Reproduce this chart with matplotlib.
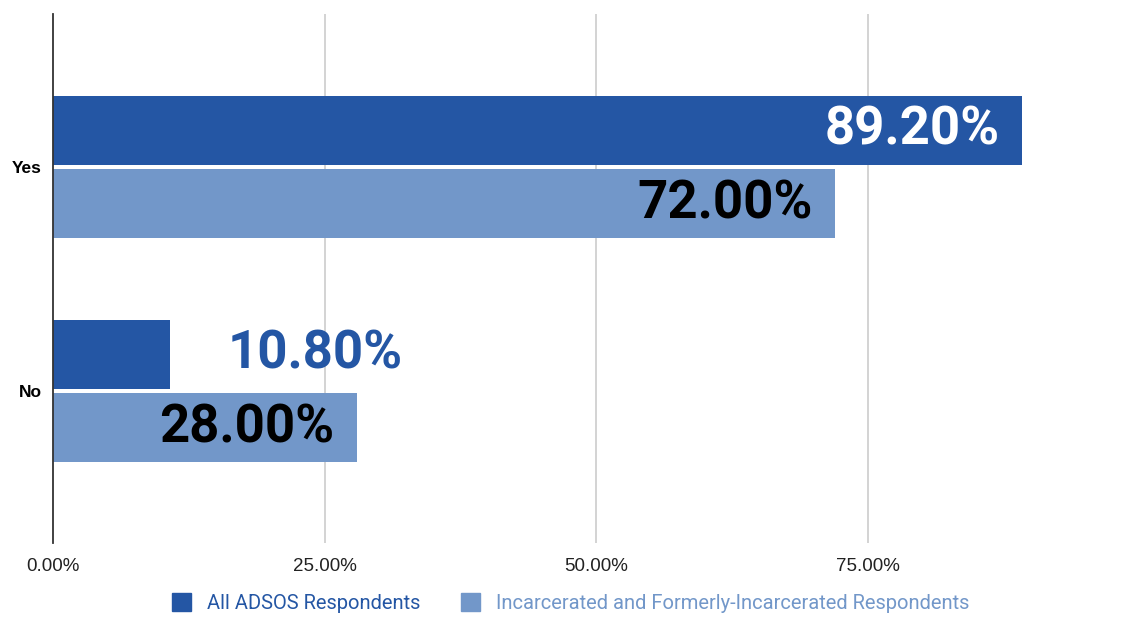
import matplotlib
matplotlib.use('Agg')
import matplotlib.pyplot as plt
from matplotlib.patches import Rectangle

plt.rcParams['font.family'] = ['Roboto', 'DejaVu Sans']

# survey answers and shares per group
categories = ['Yes', 'No']
all_adsos = [0.892, 0.108]
incarcerated = [0.72, 0.28]
series_names = ['All ADSOS Respondents', 'Incarcerated and Formerly-Incarcerated Respondents']
x_ticks = [0.0, 0.25, 0.5, 0.75]
x_tick_labels = ['0.00%', '25.00%', '50.00%', '75.00%']

dark_blue = '#2456a4'
light_blue = '#7297c9'

fig = plt.figure(figsize=(11.28, 6.17), dpi=100)
ax = fig.add_axes([53 / 1128, 1 - 543 / 617, 1 - 53 / 1128, (543 - 14) / 617])

bar_h = 0.308
offset = 0.163
pos = list(range(len(categories)))

ax.barh([p - offset for p in pos], all_adsos, height=bar_h, color=dark_blue, zorder=3)
ax.barh([p + offset for p in pos], incarcerated, height=bar_h, color=light_blue, zorder=3)

# value labels: inside the bar when it is wide enough, otherwise beside it
for p, v in zip(pos, all_adsos):
    txt = f'{v * 100:.2f}%'
    if v > 0.3:
        ax.annotate(txt, (v, p - offset), xytext=(-23, 0), textcoords='offset pixels',
                    ha='right', va='center', fontsize=38, fontweight='bold', color='white', zorder=4)
    else:
        ax.annotate(txt, (v, p - offset), xytext=(57, 0), textcoords='offset pixels',
                    ha='left', va='center', fontsize=38, fontweight='bold', color=dark_blue, zorder=4)
for p, v in zip(pos, incarcerated):
    ax.annotate(f'{v * 100:.2f}%', (v, p + offset), xytext=(-23, 0), textcoords='offset pixels',
                ha='right', va='center', fontsize=38, fontweight='bold', color='black', zorder=4)

ax.set_xlim(0, 1075 / 1086.7)
ax.set_ylim(1 + 152 / 224, -153 / 224)

ax.set_yticks(pos)
ax.set_yticklabels(categories, fontsize=12.5, fontweight='bold', family='Liberation Sans')
ax.set_xticks(x_ticks)
ax.set_xticklabels(x_tick_labels, fontsize=13.5, color='#222222', family='Liberation Sans')
ax.tick_params(axis='both', length=0)
ax.tick_params(axis='x', pad=11)
ax.tick_params(axis='y', pad=8)

for s in ['top', 'right', 'bottom']:
    ax.spines[s].set_visible(False)
ax.spines['left'].set_color('#333333')
ax.spines['left'].set_linewidth(1.3)
ax.spines['left'].set_zorder(5)

for t in x_ticks[1:]:
    ax.axvline(t, color='#cccccc', linewidth=1.2, zorder=1)

handles = [Rectangle((0, 0), 1, 1, color=dark_blue), Rectangle((0, 0), 1, 1, color=light_blue)]
fig.legend(handles, series_names, loc='center', bbox_to_anchor=(0.506, 0.022), ncol=2,
           frameon=False, fontsize=14.5, labelcolor=[dark_blue, light_blue],
           handlelength=0.95, handleheight=1.0, columnspacing=2.0, handletextpad=0.8,
           borderpad=0.1)

fig.savefig('out.png', dpi=100)
